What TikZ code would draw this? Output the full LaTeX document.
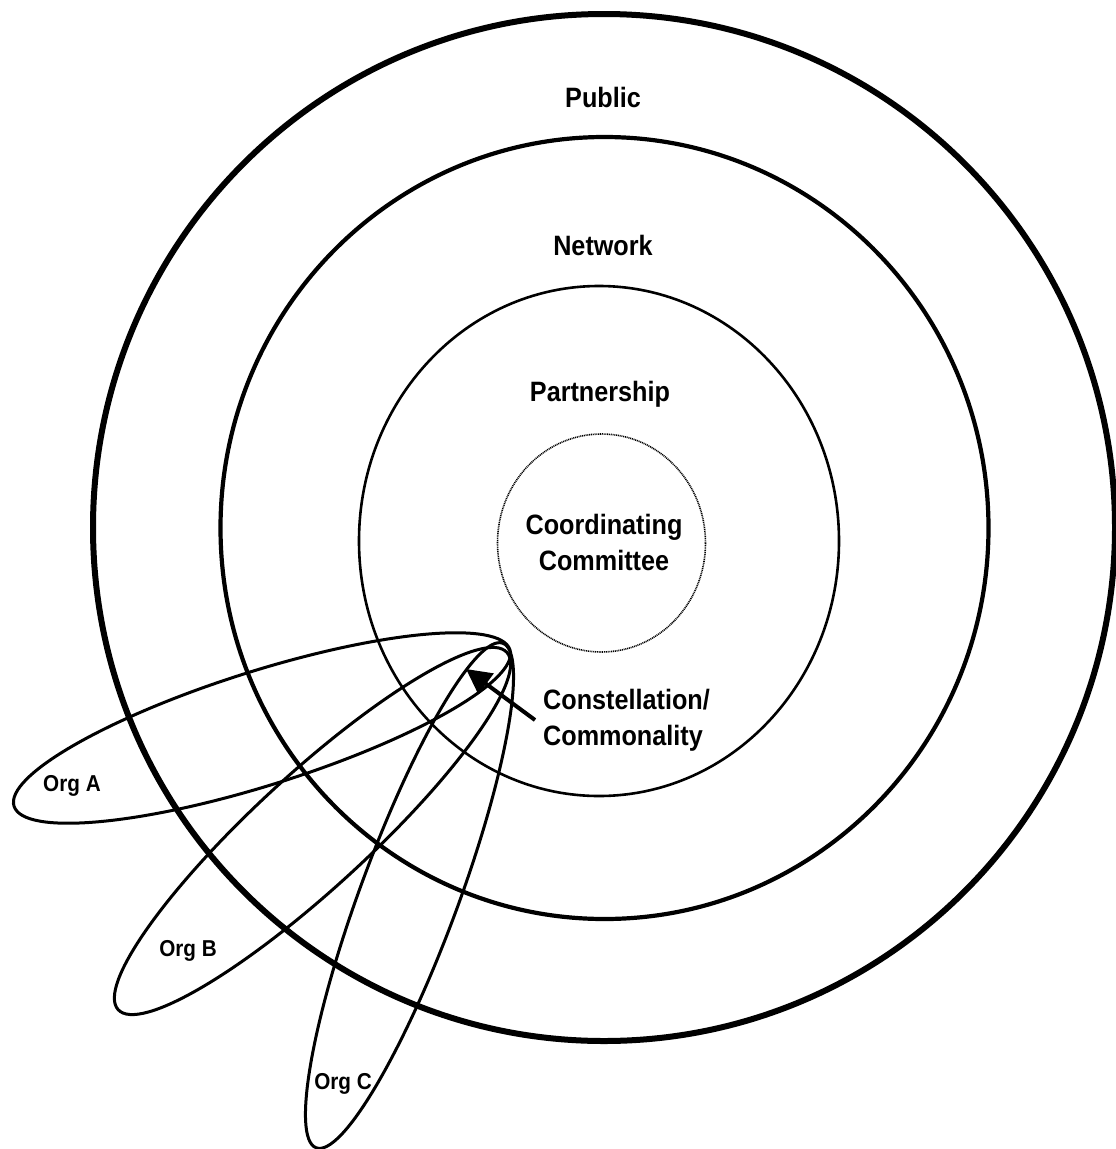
\documentclass[tikz,border=0pt]{standalone}
\usepackage{fontspec}
\setmainfont{Liberation Sans}[FakeStretch=0.9]
\usetikzlibrary{arrows.meta}
\tikzset{lbl/.style={font=\bfseries\fontsize{28}{36}\selectfont, inner sep=0pt, align=center},
         orglbl/.style={font=\bfseries\fontsize{23}{26}\selectfont, inner sep=0pt},
         org/.style={draw, line width=3pt},
         pointer/.style={line width=4pt, -{Triangle[length=25pt,width=25pt]}}}

\begin{document}
\begin{tikzpicture}[x=1pt,y=-1pt]
  \useasboundingbox (0,0) rectangle (1116,1149);
  \fill[white] (0,0) rectangle (1116,1149);

  % the four rings
  \draw[line width=6pt] (604,527.5) ellipse [x radius=511, y radius=513.5];
  \draw[line width=4.2pt] (604.5,528) ellipse [x radius=384, y radius=391];
  \draw[line width=2.6pt] (599,541) ellipse [x radius=240, y radius=255];
  \draw[line width=1.6pt, dash pattern=on 1pt off 0.8pt] (601.5,543) ellipse [x radius=104, y radius=109];

  \node[lbl] (pub) at (603,97) {Public};
  \node[lbl] (net) at (603,245) {Network};
  \node[lbl] (part) at (600,394) {Partnership};
  \node[lbl] (coord) at (604,542) {Coordinating\\Committee};

  % organisations
  \foreach \n/\cx/\cy/\ang/\ra/\rb in {A/262/728/17.5/260/57, B/312.5/831/42.6/264/57, C/409.5/895.5/69.7/269/49}
    \draw[org, rotate around={\ang:(\cx,\cy)}] (\cx,\cy) ellipse [x radius=\ra, y radius=\rb];

  \node[orglbl] (orgA) at (72,786) {Org A};
  \node[orglbl] (orgB) at (188,951) {Org B};
  \node[orglbl] (orgC) at (343,1084) {Org C};

  \node[lbl, align=left, anchor=west] (const) at (543,720) {Constellation/\\Commonality};
  \coordinate (tip) at (466,669);
  \draw[pointer] ([xshift=-8pt]const.west) -- (tip);
\end{tikzpicture}
\end{document}
